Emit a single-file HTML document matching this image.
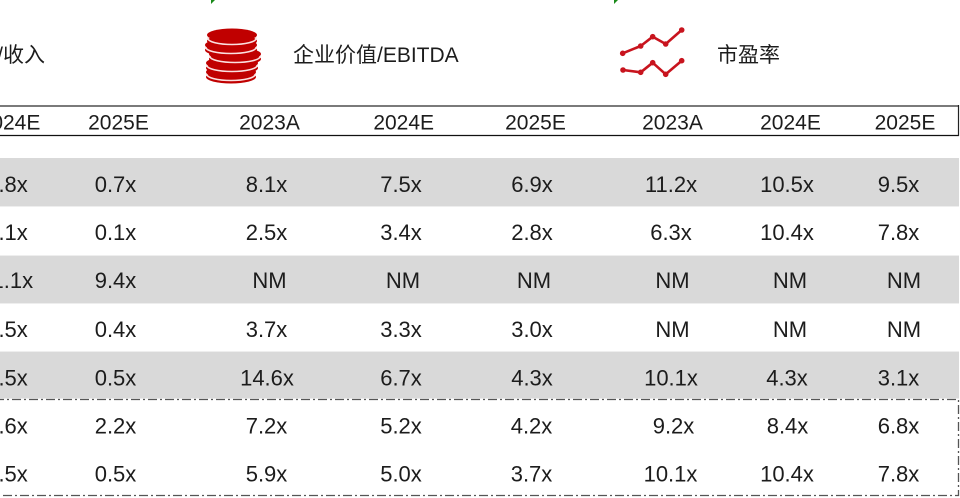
<!DOCTYPE html>
<html>
<head>
<meta charset="utf-8">
<style>
  html, body { margin:0; padding:0; background:#fff; }
  body { width:960px; height:498px; overflow:hidden; }
  svg { display:block; }
  .t { font-family: "Liberation Sans", "Noto Sans CJK SC", sans-serif; fill:#1c1c1c; }
</style>
</head>
<body>
<svg width="960" height="498" viewBox="0 0 960 498" xmlns="http://www.w3.org/2000/svg">
  <rect x="0" y="0" width="960" height="498" fill="#ffffff"/>

  <!-- tiny green marks -->
  <polygon points="211,0 215,0 211,4" fill="#1a8a1a"/>
  <polygon points="614,0 618,0 614,4" fill="#1a8a1a"/>

  <!-- coins icon -->
  <g>
    <ellipse cx="231" cy="77" rx="25" ry="6.5" fill="#c00000"/>
    <ellipse cx="231" cy="74.5" rx="24" ry="6" fill="none" stroke="#fbe0e0" stroke-width="1.6"/>
    <ellipse cx="231" cy="72" rx="25" ry="6.5" fill="#c00000"/>

    <ellipse cx="232" cy="68" rx="26" ry="6.5" fill="#c00000"/>
    <ellipse cx="232" cy="65.5" rx="25" ry="6" fill="none" stroke="#fbe0e0" stroke-width="1.6"/>
    <ellipse cx="232" cy="63" rx="26" ry="6.5" fill="#c00000"/>

    <ellipse cx="235" cy="59" rx="26" ry="6.5" fill="#c00000"/>
    <ellipse cx="235" cy="56.5" rx="25" ry="6" fill="none" stroke="#fbe0e0" stroke-width="1.6"/>
    <ellipse cx="235" cy="54" rx="26" ry="6.5" fill="#c00000"/>

    <ellipse cx="231" cy="50" rx="26" ry="6.5" fill="#c00000"/>
    <ellipse cx="231" cy="47.5" rx="25" ry="6" fill="none" stroke="#fbe0e0" stroke-width="1.6"/>
    <ellipse cx="231" cy="45" rx="26" ry="6.5" fill="#c00000"/>

    <ellipse cx="232" cy="41" rx="25" ry="6.5" fill="#c00000"/>
    <ellipse cx="232" cy="38.5" rx="24" ry="6" fill="none" stroke="#fbe0e0" stroke-width="1.6"/>
    <ellipse cx="232" cy="35" rx="25" ry="6.5" fill="#c00000"/>
  </g>

  <!-- line chart icon -->
  <g stroke="#c8141e" stroke-width="2.6" fill="none" stroke-linejoin="round">
    <polyline points="622.7,53.3 640.7,46 652.7,36.7 665.7,44 681.7,30"/>
    <polyline points="623,70 640.7,72.3 652.7,62.7 665.7,74.3 681.7,60.7"/>
  </g>
  <g fill="#c8141e">
    <circle cx="622.7" cy="53.3" r="2.8"/><circle cx="640.7" cy="46" r="2.8"/>
    <circle cx="652.7" cy="36.7" r="2.8"/><circle cx="665.7" cy="44" r="2.8"/>
    <circle cx="681.7" cy="30" r="2.8"/>
    <circle cx="623" cy="70" r="2.8"/><circle cx="640.7" cy="72.3" r="2.8"/>
    <circle cx="652.7" cy="62.7" r="2.8"/><circle cx="665.7" cy="74.3" r="2.8"/>
    <circle cx="681.7" cy="60.7" r="2.8"/>
  </g>

  <!-- titles -->
  <text class="t" x="45" y="62" font-size="21" text-anchor="end">企业价值/收入</text>
  <text class="t" x="293" y="62" font-size="21">企业价值/EBITDA</text>
  <text class="t" x="717" y="62" font-size="21">市盈率</text>

  <!-- header box -->
  <line x1="0" y1="106" x2="959" y2="106" stroke="#7a7a7a" stroke-width="2"/>
  <line x1="0" y1="135.5" x2="959" y2="135.5" stroke="#111" stroke-width="1.2"/>
  <line x1="958.5" y1="105" x2="958.5" y2="136" stroke="#222" stroke-width="1.2"/>

  <g class="t" font-size="21" text-anchor="middle">
    <text x="10" y="129.3">2024E</text>
    <text x="118.5" y="129.3">2025E</text>
    <text x="269.5" y="129.3">2023A</text>
    <text x="403.7" y="129.3">2024E</text>
    <text x="535.5" y="129.3">2025E</text>
    <text x="672.5" y="129.3">2023A</text>
    <text x="790.5" y="129.3">2024E</text>
    <text x="905" y="129.3">2025E</text>
  </g>

  <!-- gray rows -->
  <rect x="0" y="158" width="959" height="48" fill="#d9d9d9"/>
  <rect x="0" y="256" width="959" height="47" fill="#d9d9d9"/>
  <rect x="0" y="352" width="959" height="46.5" fill="#d9d9d9"/>
  <line x1="0" y1="206.5" x2="959" y2="206.5" stroke="#eeeeee" stroke-width="1"/>
  <line x1="0" y1="255.5" x2="959" y2="255.5" stroke="#eeeeee" stroke-width="1"/>
  <line x1="0" y1="303.5" x2="959" y2="303.5" stroke="#eeeeee" stroke-width="1"/>
  <line x1="0" y1="351.5" x2="959" y2="351.5" stroke="#eeeeee" stroke-width="1"/>

  <!-- dashed box -->
  <rect x="-5" y="399.5" width="963.5" height="96" fill="none" stroke="#555" stroke-width="1.3" stroke-dasharray="9 3 2 3"/>

  <!-- data -->
  <g class="t" font-size="22" text-anchor="middle">
    <!-- row 1 -->
    <text x="7" y="192">0.8x</text>
    <text x="115.5" y="192">0.7x</text>
    <text x="266.5" y="192">8.1x</text>
    <text x="401" y="192">7.5x</text>
    <text x="532" y="192">6.9x</text>
    <text x="671" y="192">11.2x</text>
    <text x="787" y="192">10.5x</text>
    <text x="898.5" y="192">9.5x</text>
    <!-- row 2 -->
    <text x="7" y="240">0.1x</text>
    <text x="115.5" y="240">0.1x</text>
    <text x="266.5" y="240">2.5x</text>
    <text x="401" y="240">3.4x</text>
    <text x="532" y="240">2.8x</text>
    <text x="671" y="240">6.3x</text>
    <text x="787" y="240">10.4x</text>
    <text x="898.5" y="240">7.8x</text>
    <!-- row 3 -->
    <text x="7" y="288">11.1x</text>
    <text x="115.5" y="288">9.4x</text>
    <text x="269.5" y="288">NM</text>
    <text x="403" y="288">NM</text>
    <text x="534" y="288">NM</text>
    <text x="672.5" y="288">NM</text>
    <text x="790" y="288">NM</text>
    <text x="904" y="288">NM</text>
    <!-- row 4 -->
    <text x="7" y="337">0.5x</text>
    <text x="115.5" y="337">0.4x</text>
    <text x="266.5" y="337">3.7x</text>
    <text x="401" y="337">3.3x</text>
    <text x="532" y="337">3.0x</text>
    <text x="672.5" y="337">NM</text>
    <text x="790" y="337">NM</text>
    <text x="904" y="337">NM</text>
    <!-- row 5 -->
    <text x="7" y="385.5">0.5x</text>
    <text x="115.5" y="385.5">0.5x</text>
    <text x="267" y="385.5">14.6x</text>
    <text x="401" y="385.5">6.7x</text>
    <text x="532" y="385.5">4.3x</text>
    <text x="671" y="385.5">10.1x</text>
    <text x="787" y="385.5">4.3x</text>
    <text x="898.5" y="385.5">3.1x</text>
    <!-- row 6 -->
    <text x="7" y="433.3">2.6x</text>
    <text x="115.5" y="433.3">2.2x</text>
    <text x="266.5" y="433.3">7.2x</text>
    <text x="401" y="433.3">5.2x</text>
    <text x="531.5" y="433.3">4.2x</text>
    <text x="673.5" y="433.3">9.2x</text>
    <text x="787.5" y="433.3">8.4x</text>
    <text x="898.5" y="433.3">6.8x</text>
    <!-- row 7 -->
    <text x="7" y="481.7">0.5x</text>
    <text x="115.5" y="481.7">0.5x</text>
    <text x="266.5" y="481.7">5.9x</text>
    <text x="401" y="481.7">5.0x</text>
    <text x="531.5" y="481.7">3.7x</text>
    <text x="670.5" y="481.7">10.1x</text>
    <text x="787" y="481.7">10.4x</text>
    <text x="898.5" y="481.7">7.8x</text>
  </g>
</svg>
</body>
</html>
